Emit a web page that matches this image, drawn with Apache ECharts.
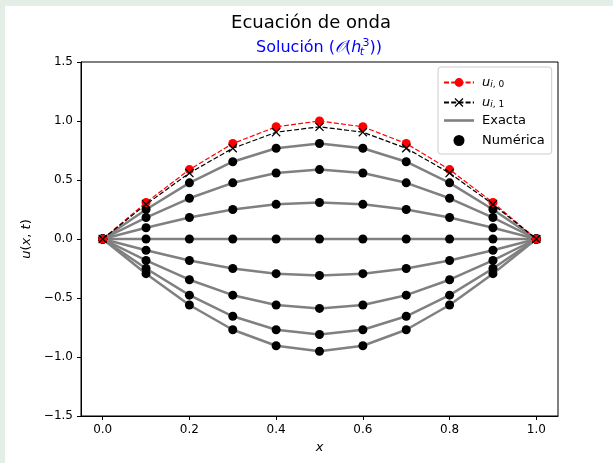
<!DOCTYPE html>
<html>
<head>
<meta charset="utf-8">
<script src="https://cdn.jsdelivr.net/npm/echarts@6/dist/echarts.min.js"></script>
<style>
html,body{margin:0;padding:0;background:#ffffff;}
#chart{width:613px;height:463px;}
</style>
</head>
<body>
<div id="chart"></div>
<script>
// ---- data ----
const xValues    = [0.0, 0.1, 0.2, 0.3, 0.4, 0.5, 0.6, 0.7, 0.8, 0.9, 1.0];
const uInitial   = [0, 0.309, 0.588, 0.809, 0.951, 1.000, 0.951, 0.809, 0.588, 0.309, 0];
const uFirstStep = [0, 0.294, 0.559, 0.769, 0.905, 0.951, 0.905, 0.769, 0.559, 0.294, 0];
const uStep2 = [0, 0.250, 0.476, 0.655, 0.769, 0.809, 0.769, 0.655, 0.476, 0.250, 0];
const uStep3 = [0, 0.182, 0.345, 0.476, 0.559, 0.588, 0.559, 0.476, 0.345, 0.182, 0];
const uStep4 = [0, 0.095, 0.182, 0.250, 0.294, 0.309, 0.294, 0.250, 0.182, 0.095, 0];
const uStep5 = [0, 0, 0, 0, 0, 0, 0, 0, 0, 0, 0];
const uStep6 = [0, -0.095, -0.182, -0.250, -0.294, -0.309, -0.294, -0.250, -0.182, -0.095, 0];
const uStep7 = [0, -0.182, -0.345, -0.476, -0.559, -0.588, -0.559, -0.476, -0.345, -0.182, 0];
const uStep8 = [0, -0.250, -0.476, -0.655, -0.769, -0.809, -0.769, -0.655, -0.476, -0.250, 0];
const uStep9 = [0, -0.294, -0.559, -0.769, -0.905, -0.951, -0.905, -0.769, -0.559, -0.294, 0];
const stepRows = [uStep2, uStep3, uStep4, uStep5, uStep6, uStep7, uStep8, uStep9];
const xTickValues = [0.0, 0.2, 0.4, 0.6, 0.8, 1.0];

// ---- chart ----
const FONT = 'DejaVu Sans';
const XMARK = 'path://M1,0 L5,4 L9,0 L10,1 L6,5 L10,9 L9,10 L5,6 L1,10 L0,9 L4,5 L0,1 Z';
const pairs = row => xValues.map((x, i) => [x, row[i]]);
const fmtNum = v => v.toFixed(1).replace('-', '\u2212');

const exactSeries = stepRows.map(r => ({
  type: 'line', name: 'Exacta', data: pairs(r), symbol: 'none',
  lineStyle: {color: '#808080', width: 2.5}, itemStyle: {color: '#808080'},
  z: 2, silent: true
}));

const chart = echarts.init(document.getElementById('chart'), null, {renderer: 'canvas'});
chart.setOption({
  animation: false,
  backgroundColor: '#ffffff',
  textStyle: {fontFamily: FONT},
  graphic: [
    {type: 'rect', shape: {x: 0, y: 0, width: 613, height: 6}, style: {fill: '#e5eee6'}, z: 100},
    {type: 'rect', shape: {x: 0, y: 0, width: 5, height: 463}, style: {fill: '#e5eee6'}, z: 100}
  ],
  title: [
    {text: 'Ecuación de onda', left: 311, top: 14, textAlign: 'center', padding: 0,
     textStyle: {fontFamily: FONT, fontSize: 18, fontWeight: 'normal', color: '#000'}},
    {text: 'Solución ({i|𝒪}({i|h}{sb|t}{sp|3}))', left: 319, top: 38, textAlign: 'center', padding: 0,
     textStyle: {fontFamily: FONT, fontSize: 16, fontWeight: 'normal', color: '#0000ff', lineHeight: 20,
       rich: {
         i: {fontFamily: FONT, fontStyle: 'italic', fontSize: 16, color: '#0000ff', lineHeight: 20},
         sb: {fontFamily: FONT, fontStyle: 'italic', fontSize: 11, color: '#0000ff', lineHeight: 11, width: 1, verticalAlign: 'bottom'},
         sp: {fontFamily: FONT, fontSize: 11, color: '#0000ff', lineHeight: 11, verticalAlign: 'top'}
       }}}
  ],
  legend: {
    orient: 'vertical', left: 438, top: 67,
    padding: [5, 7, 5, 5], itemGap: 3, itemWidth: 30, itemHeight: 11,
    backgroundColor: 'rgba(255,255,255,0.8)', borderColor: '#cccccc', borderWidth: 1, borderRadius: 3,
    textStyle: {fontFamily: FONT, fontSize: 13, color: '#000', lineHeight: 17, padding: [0, 0, 0, 3],
      rich: {
        u: {fontFamily: FONT, fontStyle: 'italic', fontSize: 13, lineHeight: 13, verticalAlign: 'top', color: '#000'},
        si: {fontFamily: FONT, fontStyle: 'italic', fontSize: 9, lineHeight: 9, padding: [8, 0, 0, 0], verticalAlign: 'bottom', color: '#000'},
        sn: {fontFamily: FONT, fontSize: 9, lineHeight: 9, padding: [8, 0, 0, 0], verticalAlign: 'bottom', color: '#000'}
      }},
    formatter: n => n === 'ui0' ? '{u|u}{si|i}{sn|, 0}' : (n === 'ui1' ? '{u|u}{si|i}{sn|, 1}' : n),
    data: [
      {name: 'ui0'},
      {name: 'ui1'},
      {name: 'Exacta', icon: 'path://M0,0L30,0L30,2.6L0,2.6Z', itemStyle: {color: '#808080'}},
      {name: 'Numérica', itemStyle: {color: '#000000', opacity: 1}}
    ],
    selectedMode: false
  },
  grid: {left: 81, right: 55, top: 62, bottom: 47, show: true, borderColor: '#000', borderWidth: 1, containLabel: false},
  xAxis: {
    type: 'value', min: -0.05, max: 1.05,
    name: '{i|x}', nameLocation: 'middle', nameGap: 24,
    nameTextStyle: {fontFamily: FONT, fontSize: 13, color: '#000', rich: {i: {fontFamily: FONT, fontStyle: 'italic', fontSize: 13, color: '#000'}}},
    axisLine: {show: true, onZero: false, lineStyle: {color: '#000', width: 1}},
    axisTick: {show: true, length: 4, customValues: xTickValues, lineStyle: {color: '#000'}},
    axisLabel: {customValues: xTickValues, formatter: v => fmtNum(v), fontFamily: FONT, fontSize: 12, color: '#000', margin: 8},
    splitLine: {show: false}
  },
  yAxis: {
    type: 'value', min: -1.5, max: 1.5, interval: 0.5,
    name: '{i|u}({i|x}, {i|t})', nameLocation: 'middle', nameGap: 46, nameRotate: 90,
    nameTextStyle: {fontFamily: FONT, fontSize: 13, color: '#000', rich: {i: {fontFamily: FONT, fontStyle: 'italic', fontSize: 13, color: '#000'}}},
    axisLine: {show: true, onZero: false, lineStyle: {color: '#000', width: 1}},
    axisTick: {show: true, length: 4, lineStyle: {color: '#000'}},
    axisLabel: {formatter: v => fmtNum(v), fontFamily: FONT, fontSize: 12, color: '#000', margin: 8},
    splitLine: {show: false}
  },
  series: [
    ...exactSeries,
    {type: 'scatter', name: 'Numérica', data: stepRows.flatMap(pairs), symbol: 'circle', symbolSize: 9,
     itemStyle: {color: '#000000', opacity: 1}, z: 3},
    {type: 'line', name: 'ui0', data: pairs(uInitial), symbol: 'circle', symbolSize: 9, showAllSymbol: true,
     itemStyle: {color: '#ff0000'}, lineStyle: {color: '#ff0000', width: 1.2, type: [5, 2.2]}, z: 4},
    {type: 'line', name: 'ui1', data: pairs(uFirstStep), symbol: XMARK, symbolSize: 9, showAllSymbol: true,
     itemStyle: {color: '#000000'}, lineStyle: {color: '#000000', width: 1.2, type: [5, 2.2]}, z: 5}
  ]
});
</script>
</body>
</html>
